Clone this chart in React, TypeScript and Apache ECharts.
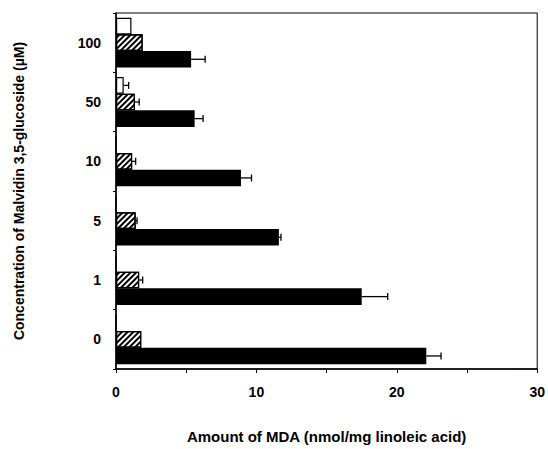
import React, { useEffect, useRef } from "react";
import * as echarts from "echarts";

const categories = ["0", "1", "5", "10", "50", "100"];
const whiteVals = [0, 0, 0, 0, 0.55, 1.1];
const whiteErr = [0, 0, 0, 0, 0.35, 0];
const hatchVals = [1.8, 1.65, 1.4, 1.15, 1.35, 1.9];
const hatchErr = [0, 0.25, 0.1, 0.25, 0.3, 0];
const blackVals = [22.1, 17.5, 11.6, 8.9, 5.6, 5.35];
const blackErr = [1.05, 1.85, 0.15, 0.75, 0.6, 1.0];
const xTicks = [0, 10, 20, 30];

const BAR_RATIO = 0.28;
const FONT = "Liberation Sans, Arial, sans-serif";

function errSeries(vals: number[], errs: number[], slot: number) {
  return {
    type: "custom",
    silent: true,
    z: 5,
    data: vals.map((v, i) => [v, i, errs[i]]),
    renderItem: (params: any, api: any) => {
      const v = api.value(0);
      const cat = api.value(1);
      const e = api.value(2);
      if (!e) return null;
      const band = api.size([0, 1])[1];
      const p0 = api.coord([v, cat]);
      const p1 = api.coord([v + e, cat]);
      const y = p0[1] + (slot - 1) * band * BAR_RATIO;
      const cap = 3.5;
      return {
        type: "group",
        children: [
          { type: "line", shape: { x1: p0[0], y1: y, x2: p1[0], y2: y }, style: { stroke: "#000", lineWidth: 1.3 } },
          { type: "line", shape: { x1: p1[0], y1: y - cap, x2: p1[0], y2: y + cap }, style: { stroke: "#000", lineWidth: 1.3 } },
        ],
      };
    },
  };
}

export default function App() {
  const ref = useRef<HTMLDivElement>(null);
  useEffect(() => {
    const chart = echarts.init(ref.current!, null, { renderer: "svg" });
    chart.setOption({
      animation: false,
      grid: { left: 116, right: 8, top: 13, bottom: 76, show: true, borderColor: "#000", borderWidth: 1 },
      xAxis: {
        type: "value",
        min: 0,
        max: 30,
        interval: 5,
        name: "Amount of MDA (nmol/mg linoleic acid)",
        nameLocation: "middle",
        nameGap: 60,
        nameTextStyle: { fontFamily: FONT, fontWeight: "bold", fontSize: 15, color: "#000" },
        axisLine: { show: true, lineStyle: { color: "#000", width: 1.5 } },
        axisTick: { show: true, length: 4, lineStyle: { color: "#000" } },
        splitLine: { show: false },
        axisLabel: {
          margin: 16,
          fontFamily: FONT,
          fontWeight: "bold",
          fontSize: 14,
          color: "#000",
          formatter: (v: number) => (xTicks.indexOf(v) >= 0 ? String(v) : ""),
        },
      },
      yAxis: {
        type: "category",
        data: categories,
        name: "Concentration of Malvidin 3,5-glucoside (\u00b5M)",
        nameLocation: "middle",
        nameGap: 90,
        nameTextStyle: { fontFamily: FONT, fontWeight: "bold", fontSize: 14, color: "#000" },
        axisLine: { show: true, lineStyle: { color: "#000", width: 1.5 } },
        axisTick: { show: true, length: 3, lineStyle: { color: "#000" } },
        axisLabel: { margin: 15, fontFamily: FONT, fontWeight: "bold", fontSize: 14, color: "#000" },
      },
      series: [
        {
          type: "bar",
          data: whiteVals,
          barWidth: BAR_RATIO * 100 + "%",
          barGap: "0%",
          itemStyle: { color: "#fff", borderColor: "#000", borderWidth: 1.2 },
        },
        {
          type: "bar",
          data: hatchVals,
          barWidth: BAR_RATIO * 100 + "%",
          barGap: "0%",
          itemStyle: {
            color: "#fff",
            borderColor: "#000",
            borderWidth: 1.2,
            decal: {
              symbol: "rect",
              symbolSize: 1,
              color: "#000",
              dashArrayX: [1, 0],
              dashArrayY: [2, 2],
              rotation: -Math.PI / 4,
            },
          },
        },
        {
          type: "bar",
          data: blackVals,
          barWidth: BAR_RATIO * 100 + "%",
          barGap: "0%",
          itemStyle: { color: "#000" },
        },
        errSeries(whiteVals, whiteErr, 0),
        errSeries(hatchVals, hatchErr, 1),
        errSeries(blackVals, blackErr, 2),
      ],
    });
    return () => chart.dispose();
  }, []);
  return <div ref={ref} style={{ position: "absolute", left: 0, top: 0, width: 548, height: 449 }} />;
}
